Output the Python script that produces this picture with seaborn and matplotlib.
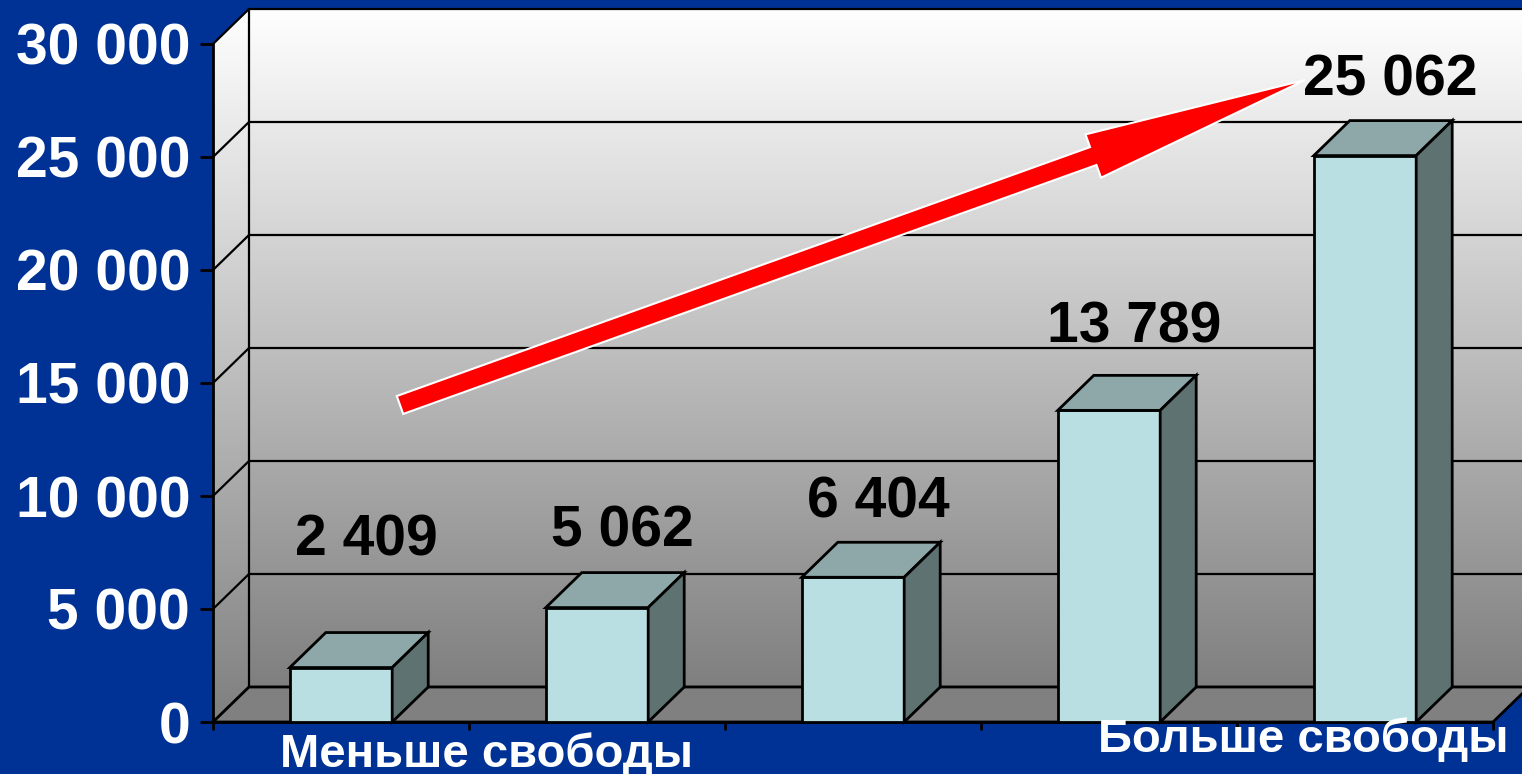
import numpy as np
import matplotlib
matplotlib.use("Agg")
import matplotlib.pyplot as plt
from matplotlib.patches import Polygon, FancyArrow
from matplotlib.colors import LinearSegmentedColormap
import seaborn as sns

# data
categories = ["1", "2", "3", "4", "5"]
values = [2409, 5062, 6404, 13789, 25062]
y_ticks = [0, 5000, 10000, 15000, 20000, 25000, 30000]
left_label = "Меньше свободы"
right_label = "Больше свободы"

# how far each value label sits above its bar (points, to the baseline)
label_lift = [81, 44, 43, 49, 43]


def fmt(v):
    return f"{int(v):,}".replace(",", " ")


plt.rcParams['font.family'] = ['Liberation Sans', 'DejaVu Sans']

W, H = 1522, 774
fig = plt.figure(figsize=(W / 100, H / 100), dpi=100, facecolor="#003296")
ax = fig.add_axes([213 / W, 52 / H, 1280 / W, 678 / H])
ax.set_facecolor("none")

# 3d depth of the box, in data units
DX = 36 / 256
DY = 35 * 30000 / 678
TOP = y_ticks[-1]

wall_cmap = LinearSegmentedColormap.from_list("wall", ["#7f7f7f", "#ffffff"])
grad = np.linspace(0, 1, 256).reshape(-1, 1)

# back wall
back = ax.imshow(grad, cmap=wall_cmap, origin="lower", aspect="auto",
                 extent=(-0.5 + DX, 4.8, DY, TOP + DY), zorder=0)
back.set_clip_on(False)

# left side wall
side_poly = Polygon([(-0.5, 0), (-0.5 + DX, DY), (-0.5 + DX, TOP + DY), (-0.5, TOP)],
                    transform=ax.transData)
side = ax.imshow(grad, cmap=wall_cmap, origin="lower", aspect="auto",
                 extent=(-0.5, -0.5 + DX, 0, TOP + DY), zorder=0)
side.set_clip_box(fig.bbox)
side.set_clip_path(side_poly)

# grid on the walls
for v in y_ticks:
    ax.plot([-0.5, -0.5 + DX, 4.8], [v, v + DY, v + DY], color="black",
            lw=1.6, clip_on=False, zorder=1)
ax.plot([-0.5 + DX, -0.5 + DX], [DY, TOP + DY], color="black", lw=1.6,
        clip_on=False, zorder=1)

# floor
ax.add_patch(Polygon([(-0.5, 0), (4.5, 0), (4.5 + DX, DY), (-0.5 + DX, DY)],
                     facecolor="#808080", edgecolor="black", lw=2,
                     clip_on=False, zorder=2))

# bars (front faces) with seaborn
sns.barplot(x=categories, y=values, width=0.4, color="#b9dfe3", saturation=1,
            edgecolor="black", linewidth=2, ax=ax, zorder=3)

for bar in ax.containers[0]:
    x0 = bar.get_x()
    x1 = x0 + bar.get_width()
    h = bar.get_height()
    ax.add_patch(Polygon([(x0, h), (x1, h), (x1 + DX, h + DY), (x0 + DX, h + DY)],
                         facecolor="#8ea8aa", edgecolor="black", lw=2,
                         clip_on=False, zorder=3))
    ax.add_patch(Polygon([(x1, 0), (x1, h), (x1 + DX, h + DY), (x1 + DX, DY)],
                         facecolor="#5f7272", edgecolor="black", lw=2,
                         clip_on=False, zorder=3))

# value labels
for i, v in enumerate(values):
    ax.annotate(fmt(v), xy=(i + 0.1, v), xytext=(0, label_lift[i]),
                textcoords="offset points", ha="center", va="baseline",
                fontsize=41, fontweight="bold", color="black", zorder=6)

# red trend arrow
arrow = FancyArrow(4.00, 3.69, 9.05, 3.25, width=0.19, head_width=0.46,
                   head_length=2.25, length_includes_head=True,
                   facecolor="red", edgecolor="white", lw=1.5,
                   transform=fig.dpi_scale_trans, zorder=5)
arrow.set_clip_on(False)
ax.add_patch(arrow)

ax.set_xlim(-0.5, 4.5)
ax.set_ylim(0, TOP)
ax.set_xticks(np.arange(-0.5, 5, 1))
ax.set_xticklabels([])
ax.set_yticks(y_ticks)
ax.set_yticklabels([fmt(t) for t in y_ticks])
ax.set_xlabel("")
ax.set_ylabel("")
ax.tick_params(axis="y", length=9.4, width=2, color="black", labelsize=41,
               labelcolor="white", pad=7)
ax.tick_params(axis="x", length=6, width=2, color="black")
for lbl in ax.get_yticklabels():
    lbl.set_fontweight("bold")
for s in ["top", "right"]:
    ax.spines[s].set_visible(False)
for s in ["left", "bottom"]:
    ax.spines[s].set_linewidth(2)
    ax.spines[s].set_color("black")

fig.text(487 / W, 1 - 767 / H, left_label, ha="center", va="baseline",
         fontsize=34, fontweight="bold", color="white")
fig.text(1303 / W, 1 - 752 / H, right_label, ha="center", va="baseline",
         fontsize=34, fontweight="bold", color="white")

fig.savefig("out.png", dpi=100, facecolor=fig.get_facecolor())
